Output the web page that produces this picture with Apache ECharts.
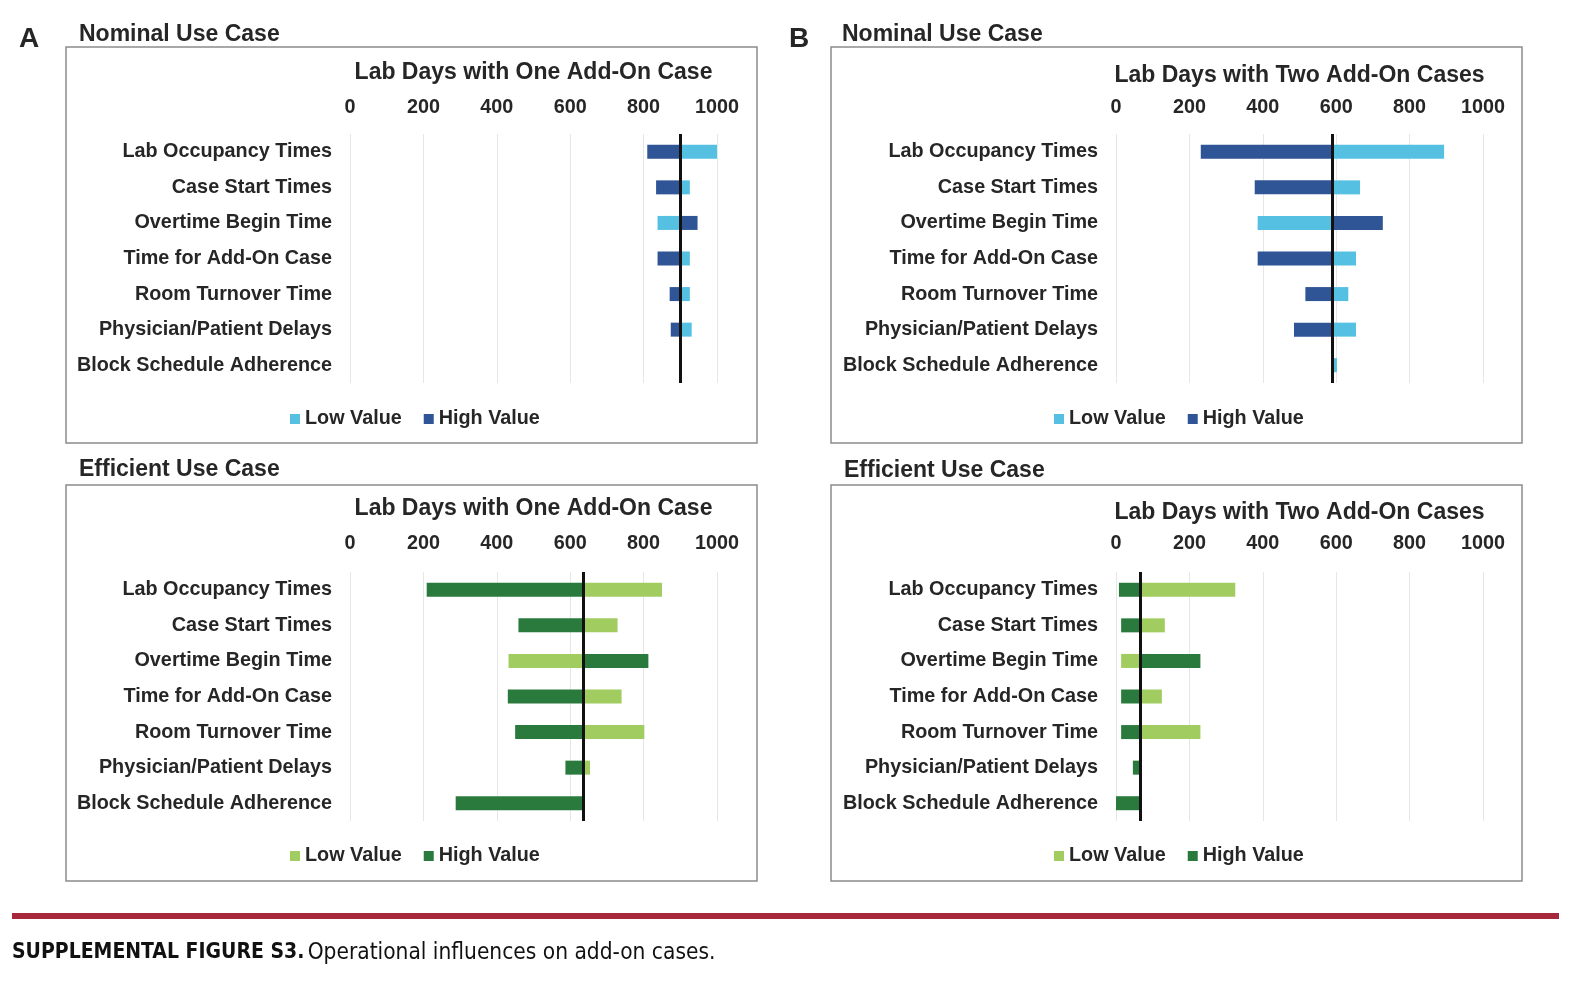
<!DOCTYPE html>
<html><head><meta charset="utf-8">
<script src="https://cdn.jsdelivr.net/npm/echarts@6/dist/echarts.min.js"></script>
<style>html,body{margin:0;padding:0;background:#fff}#c{width:1572px;height:986px}</style>
</head><body><div id="c"></div>
<script>
// ---- data ----
const categories = ['Lab Occupancy Times','Case Start Times','Overtime Begin Time','Time for Add-On Case','Room Turnover Time','Physician/Patient Delays','Block Schedule Adherence'];
const axisMin = 0, axisMax = 1000, axisStep = 200;

const nominalOneBase = 900;
const nominalOneLow  = [1000, 926, 838, 926, 926, 931, 900];
const nominalOneHigh = [810, 834, 947, 838, 871, 874, 900];

const nominalTwoBase = 590;
const nominalTwoLow  = [894, 665, 386, 654, 633, 654, 602];
const nominalTwoHigh = [231, 378, 727, 386, 516, 485, 590];

const efficientOneBase = 636;
const efficientOneLow  = [850, 729, 432, 740, 802, 654, 636];
const efficientOneHigh = [209, 459, 813, 430, 450, 587, 288];

const efficientTwoBase = 66;
const efficientTwoLow  = [325, 133, 14, 125, 230, 66, 66];
const efficientTwoHigh = [8, 14, 230, 14, 14, 46, 0];

const titleOne = 'Lab Days with One Add-On Case';
const titleTwo = 'Lab Days with Two Add-On Cases';

// ---- layout / style ----
const FONT = '"Liberation Sans", Arial, sans-serif';
const CAPFONT = '"DejaVu Sans Condensed", "Liberation Sans Narrow", sans-serif';
const TXT = '#262626';
const blue = {low:'#55c0e2', high:'#2f5596', tag:'b'};
const green = {low:'#a1cc5f', high:'#2a7a3d', tag:'g'};

const panels = [
  {base:nominalOneBase, low:nominalOneLow, high:nominalOneHigh, name:titleOne, left:350, top:134, pal:blue, nameGap:50, margin:16, legLeft:285, legTop:404},
  {base:nominalTwoBase, low:nominalTwoLow, high:nominalTwoHigh, name:titleTwo, left:1116, top:134, pal:blue, nameGap:47, margin:16, legLeft:1049, legTop:404},
  {base:efficientOneBase, low:efficientOneLow, high:efficientOneHigh, name:titleOne, left:350, top:572, pal:green, nameGap:52, margin:18, legLeft:285, legTop:841},
  {base:efficientTwoBase, low:efficientTwoLow, high:efficientTwoHigh, name:titleTwo, left:1116, top:572, pal:green, nameGap:48, margin:18, legLeft:1049, legTop:841}
];

const grid = [], xAxis = [], yAxis = [], series = [], legend = [];
panels.forEach((p, i) => {
  grid.push({left:p.left, top:p.top, width:367, height:249, containLabel:false});
  xAxis.push({
    type:'value', gridIndex:i, position:'top', min:axisMin, max:axisMax, interval:axisStep,
    name:p.name, nameLocation:'middle', nameGap:p.nameGap,
    nameTextStyle:{fontFamily:FONT, fontWeight:'bold', fontSize:23, color:TXT},
    axisLine:{show:false}, axisTick:{show:false},
    axisLabel:{fontFamily:FONT, fontWeight:'bold', fontSize:19.8, color:TXT, margin:p.margin, formatter: v => String(v)},
    splitLine:{lineStyle:{color:'#e6e6e6', width:1}}
  });
  yAxis.push({
    type:'category', gridIndex:i, data:categories, inverse:true,
    axisLine:{show:false}, axisTick:{show:false}, splitLine:{show:false},
    axisLabel:{fontFamily:FONT, fontWeight:'bold', fontSize:19.8, color:TXT, margin:18}
  });
  const mk = (vals, key, color, withLine) => {
    const sk = 'p' + i + key;
    series.push({
      type:'bar', xAxisIndex:i, yAxisIndex:i, stack:sk, silent:true, barWidth:14, barGap:'-100%',
      itemStyle:{color:'rgba(0,0,0,0)'},
      data: vals.map(v => Math.min(v, p.base))
    });
    const s = {
      type:'bar', name:(key === 'low' ? 'Low Value' : 'High Value') + '|' + p.pal.tag,
      xAxisIndex:i, yAxisIndex:i, stack:sk, barWidth:14, barGap:'-100%',
      itemStyle:{color:color},
      data: vals.map(v => Math.abs(v - p.base))
    };
    if (withLine) {
      s.markLine = {silent:true, symbol:'none', label:{show:false},
        lineStyle:{color:'#111', width:3, type:'solid'},
        data:[{xAxis:p.base}]};
      s.z = 3;
    }
    series.push(s);
  };
  mk(p.low, 'low', p.pal.low, false);
  mk(p.high, 'high', p.pal.high, true);
  legend.push({
    left:p.legLeft, top:p.legTop, orient:'horizontal', icon:'rect', itemWidth:10, itemHeight:10, itemGap:22,
    data:['Low Value|' + p.pal.tag, 'High Value|' + p.pal.tag],
    formatter: n => n.split('|')[0],
    textStyle:{fontFamily:FONT, fontWeight:'bold', fontSize:19.8, color:TXT},
    selectedMode:false
  });
});

const box = (x, y) => ({type:'rect', shape:{x:x, y:y, width:691, height:396}, style:{fill:'none', stroke:'#8c8c8c', lineWidth:1.5}, silent:true});
const txt = (x, y, t, size) => ({type:'text', x:x, y:y, style:{text:t, fontFamily:FONT, fontWeight:'bold', fontSize:size, fill:TXT, textVerticalAlign:'middle'}, silent:true});

const graphic = [
  box(66, 47), box(831, 47), box(66, 485), box(831, 485),
  txt(19, 39, 'A', 28), txt(789, 39, 'B', 28),
  txt(79, 35, 'Nominal Use Case', 23), txt(842, 35, 'Nominal Use Case', 23),
  txt(79, 470, 'Efficient Use Case', 23), txt(844, 471, 'Efficient Use Case', 23),
  {type:'rect', shape:{x:12, y:913, width:1547, height:6}, style:{fill:'#a6283a'}, silent:true},
  {type:'text', x:12, y:953, silent:true, style:{
    text:'{b|SUPPLEMENTAL FIGURE S3.} {r|Operational influences on add-on cases.}',
    textVerticalAlign:'middle',
    rich:{
      b:{fontFamily:CAPFONT, fontWeight:'bold', fontSize:21, fill:'#111'},
      r:{fontFamily:CAPFONT, fontWeight:'normal', fontSize:22.5, fill:'#111'}
    }
  }}
];

const chart = echarts.init(document.getElementById('c'));
chart.setOption({animation:false, backgroundColor:'#fff', grid, xAxis, yAxis, series, legend, graphic});
</script></body></html>
